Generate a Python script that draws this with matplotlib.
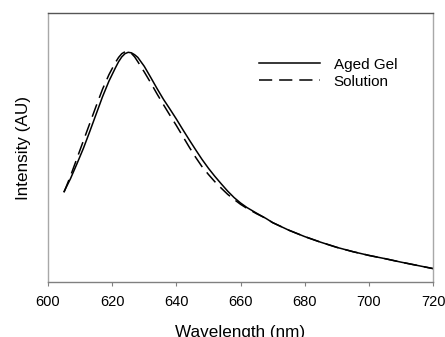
import numpy as np
import matplotlib
matplotlib.use("Agg")
import matplotlib.pyplot as plt

plt.rcParams['font.family'] = ['Liberation Sans', 'DejaVu Sans']
plt.rcParams['lines.scale_dashes'] = False

# emission spectra (arbitrary units)
gel_wl = [605, 607, 609, 611, 613, 615, 617, 619, 621, 622, 623, 624, 625, 626,
          627, 628, 630, 632, 634, 636, 638, 640, 642, 644, 646, 648, 650, 652,
          654, 656, 658, 660, 662, 665, 668, 670, 675, 680, 685, 690, 695, 700,
          705, 710, 715, 720]
gel_int = [0.337, 0.385, 0.44, 0.497, 0.56, 0.625, 0.69, 0.748, 0.797, 0.82, 0.838,
           0.85, 0.855, 0.853, 0.846, 0.836, 0.803, 0.762, 0.72, 0.68, 0.644,
           0.607, 0.568, 0.53, 0.493, 0.457, 0.424, 0.394, 0.366, 0.339, 0.315,
           0.295, 0.278, 0.257, 0.237, 0.222, 0.194, 0.170, 0.149, 0.130, 0.114,
           0.100, 0.088, 0.075, 0.063, 0.051]

sol_wl = gel_wl
sol_int = [0.335, 0.395, 0.46, 0.525, 0.59, 0.655, 0.718, 0.772, 0.817, 0.836, 0.85,
           0.857, 0.857, 0.851, 0.838, 0.82, 0.782, 0.742, 0.70, 0.66, 0.621,
           0.583, 0.543, 0.503, 0.465, 0.43, 0.401, 0.374, 0.35, 0.327, 0.308,
           0.29, 0.275, 0.255, 0.237, 0.222, 0.194, 0.170, 0.149, 0.130, 0.114,
           0.100, 0.088, 0.075, 0.063, 0.051]

xticks = [600, 620, 640, 660, 680, 700, 720]

fig = plt.figure(figsize=(4.45, 3.37), dpi=100)
ax = fig.add_axes([48 / 445, 1 - 282.3 / 337, 385 / 445, 269 / 337])

ax.plot(gel_wl, gel_int, color='black', lw=1.1, label='Aged Gel')
ax.plot(sol_wl, sol_int, color='black', lw=1.1, dashes=(9.5, 5), label='Solution')

ax.set_xlim(600, 720)
ax.set_ylim(0, 1)
ax.set_xticks(xticks)
ax.set_yticks([])
ax.tick_params(axis='x', direction='out', length=3, width=0.8, color='#808080',
               labelsize=10.5, pad=6)

for side, col in [('left', '#a8a8a8'), ('right', '#a8a8a8'),
                  ('top', '#555555'), ('bottom', '#808080')]:
    ax.spines[side].set_color(col)
    ax.spines[side].set_linewidth(1.0)

ax.set_xlabel('Wavelength (nm)', fontsize=12.3, labelpad=12)
ax.set_ylabel('Intensity (AU)', fontsize=12.3, labelpad=12)

ax.legend(loc='upper left', bbox_to_anchor=(0.548, 0.835), frameon=False,
          fontsize=11, handlelength=4.0, handletextpad=0.9,
          labelspacing=0.2, borderpad=0, borderaxespad=0)

fig.savefig('out.png', dpi=100)
